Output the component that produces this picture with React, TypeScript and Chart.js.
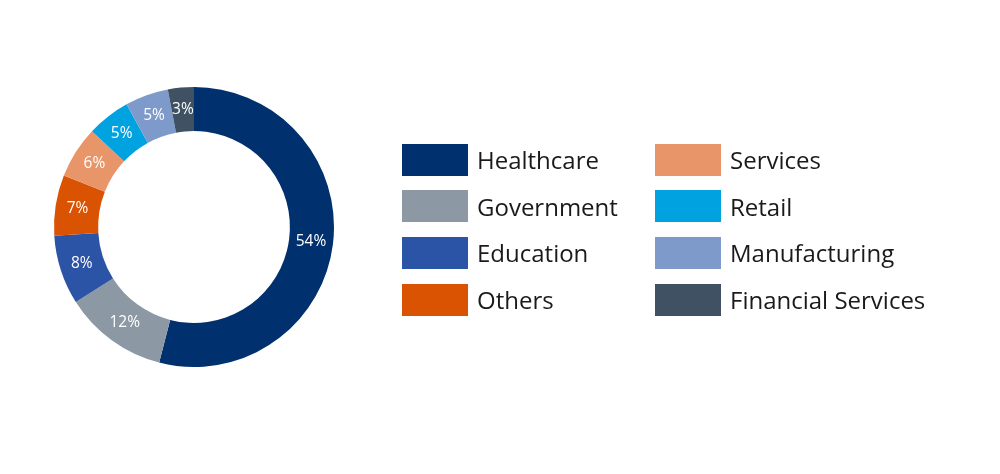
import React, { useEffect, useRef } from "react";
import { Chart, registerables } from "chart.js";

Chart.register(...registerables);

const categories = [
  "Healthcare",
  "Government",
  "Education",
  "Others",
  "Services",
  "Retail",
  "Manufacturing",
  "Financial Services",
];
const shares = [54, 12, 8, 7, 6, 5, 5, 3];
const colors = [
  "#00306E",
  "#8C98A3",
  "#2B53A6",
  "#D95303",
  "#E8956A",
  "#00A3DF",
  "#7E9ACB",
  "#3F5162",
];

const FONT = "'Open Sans', 'Noto Sans', sans-serif";

const labelPlugin = {
  id: "sliceLabels",
  afterDatasetsDraw(chart: any) {
    const ctx = chart.ctx;
    const meta = chart.getDatasetMeta(0);
    ctx.save();
    ctx.fillStyle = "#ffffff";
    ctx.font = `15.5px ${FONT}`;
    ctx.textAlign = "center";
    ctx.textBaseline = "middle";
    meta.data.forEach((arc: any, i: number) => {
      const p = arc.tooltipPosition();
      ctx.fillText(`${shares[i]}%`, p.x, p.y);
    });
    ctx.restore();
  },
};

export default function App() {
  const ref = useRef<HTMLCanvasElement>(null);
  useEffect(() => {
    if (!ref.current) return;
    const chart = new Chart(ref.current, {
      type: "doughnut",
      data: {
        labels: categories,
        datasets: [
          {
            data: shares,
            backgroundColor: colors,
            borderWidth: 0,
          },
        ],
      },
      options: {
        animation: false,
        responsive: false,
        maintainAspectRatio: false,
        cutout: "68.5%",
        layout: { padding: { left: 54, top: 87, right: 666, bottom: 107 } },
        plugins: {
          legend: { display: false },
          tooltip: { enabled: false },
        },
      },
      plugins: [labelPlugin],
    });
    return () => chart.destroy();
  }, []);

  return (
    <div
      style={{
        position: "fixed",
        left: 0,
        top: 0,
        width: 1000,
        height: 474,
        background: "#ffffff",
        fontFamily: FONT,
      }}
    >
      <canvas ref={ref} width={1000} height={474} style={{ position: "absolute", left: 0, top: 0 }} />
      <div
        style={{
          position: "absolute",
          left: 402,
          top: 143.5,
          display: "grid",
          gridAutoFlow: "column",
          gridTemplateRows: "repeat(4, 32px)",
          gridTemplateColumns: "253px 290px",
          rowGap: 14.7,
        }}
      >
        {categories.map((c, i) => (
          <div key={c} style={{ display: "flex", alignItems: "center", height: 32 }}>
            <div style={{ width: 66, height: 32, background: colors[i], flex: "none" }} />
            <span style={{ marginLeft: 9, fontSize: 24, color: "#1a1a1a", whiteSpace: "nowrap" }}>{c}</span>
          </div>
        ))}
      </div>
    </div>
  );
}
